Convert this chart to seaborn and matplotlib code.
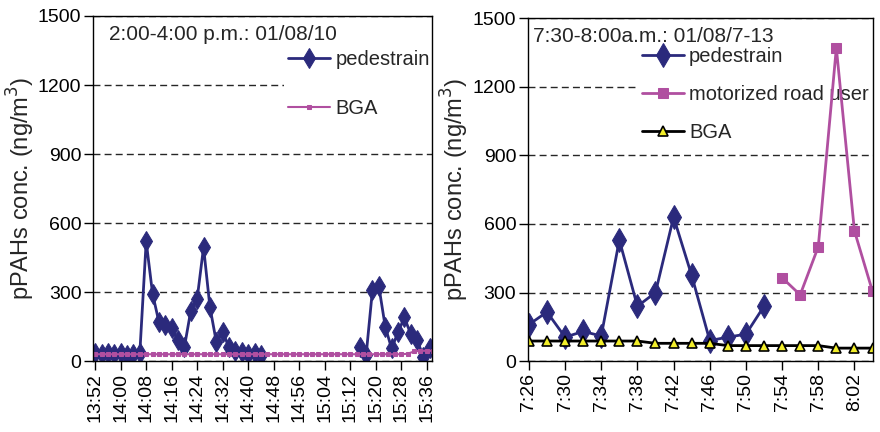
import matplotlib
matplotlib.use("Agg")
import matplotlib.pyplot as plt
import seaborn as sns

# left panel, 2:00-4:00 p.m. 01/08/10
ped_pm_time = ["13:52", "13:54", "13:56", "13:58", "14:00", "14:02", "14:04", "14:06",
               "14:08", "14:10", "14:12", "14:14", "14:16", "14:18", "14:20", "14:22",
               "14:24", "14:26", "14:28", "14:30", "14:32", "14:34", "14:36", "14:38",
               "14:40", "14:42", "14:44",
               "15:15", "15:17", "15:19", "15:21", "15:23", "15:25", "15:27", "15:29",
               "15:31", "15:33", "15:35", "15:37"]
ped_pm = [35, 30, 35, 30, 35, 25, 30, 35,
          520, 293, 170, 155, 142, 90, 62, 220,
          272, 495, 235, 84, 127, 60, 45, 38,
          30, 35, 25,
          60, 25, 310, 325, 150, 55, 125, 190,
          118, 90, 20, 55]

bga_pm_time = ["13:52", "13:54", "13:56", "13:58", "14:00", "14:02", "14:04", "14:06",
               "14:08", "14:10", "14:12", "14:14", "14:16", "14:18", "14:20", "14:22",
               "14:24", "14:26", "14:28", "14:30", "14:32", "14:34", "14:36", "14:38",
               "14:40", "14:42", "14:44", "14:46", "14:48", "14:50", "14:52", "14:54",
               "14:56", "14:58", "15:00", "15:02", "15:04", "15:06", "15:08", "15:10",
               "15:12", "15:14", "15:16", "15:18", "15:20", "15:22", "15:24", "15:26",
               "15:28", "15:30", "15:32", "15:34", "15:36", "15:38"]
bga_pm = [30, 30, 30, 30, 30, 30, 30, 30,
          30, 30, 30, 30, 30, 30, 30, 30,
          30, 30, 30, 30, 30, 30, 30, 30,
          30, 30, 30, 30, 30, 30, 30, 30,
          30, 30, 30, 30, 30, 30, 30, 30,
          30, 30, 30, 30, 30, 30, 30, 30,
          30, 32, 42, 45, 45, 45]

pm_ticks = ["13:52", "14:00", "14:08", "14:16", "14:24", "14:32", "14:40", "14:48",
            "14:56", "15:04", "15:12", "15:20", "15:28", "15:36"]

# right panel, 7:30-8:00 a.m. 01/08/7-13
ped_am_time = ["7:26", "7:28", "7:30", "7:32", "7:34", "7:36", "7:38", "7:40",
               "7:42", "7:44", "7:46", "7:48", "7:50", "7:52"]
ped_am = [160, 215, 105, 130, 110, 530, 240, 300, 630, 375, 90, 105, 118, 240]

motor_am_time = ["7:54", "7:56", "7:58", "8:00", "8:02", "8:04"]
motor_am = [365, 290, 500, 1370, 570, 305]

bga_am_time = ["7:26", "7:28", "7:30", "7:32", "7:34", "7:36", "7:38", "7:40",
               "7:42", "7:44", "7:46", "7:48", "7:50", "7:52", "7:54", "7:56",
               "7:58", "8:00", "8:02", "8:04"]
bga_am = [88, 88, 88, 88, 88, 88, 88, 78, 78, 78, 78, 68, 68, 68, 68, 68, 68, 57, 57, 57]

am_ticks = ["7:26", "7:30", "7:34", "7:38", "7:42", "7:46", "7:50", "7:54", "7:58", "8:02"]

y_ticks = [0, 300, 600, 900, 1200, 1500]

navy = "#2b2a7c"
pink = "#b04fa0"


def mins(t):
    h, m = t.split(":")
    return int(h) * 60 + int(m)


sns.set_style("ticks")
plt.rcParams['font.family'] = ['Liberation Sans', 'DejaVu Sans']
plt.rcParams['font.size'] = 14

fig = plt.figure(figsize=(8.8, 4.32), dpi=100)
ax1 = fig.add_axes([0.106, 0.164, 0.385, 0.799])
ax2 = fig.add_axes([0.600, 0.164, 0.392, 0.794])

# ---- left ----
xp = [mins(t) for t in ped_pm_time]
# measurement gap between 14:44 and 15:15 -> draw as two pieces
cut = [i for i in range(1, len(xp)) if xp[i] - xp[i - 1] > 10][0]
sns.lineplot(x=xp[:cut], y=ped_pm[:cut], ax=ax1, color=navy, linewidth=2, marker="d",
             markersize=10, markeredgecolor=navy, label="pedestrain")
sns.lineplot(x=xp[cut:], y=ped_pm[cut:], ax=ax1, color=navy, linewidth=2, marker="d",
             markersize=10, markeredgecolor=navy, label="_nolegend_")
sns.lineplot(x=[mins(t) for t in bga_pm_time], y=bga_pm, ax=ax1, color=pink,
             linewidth=1.5, marker="s", markersize=3.5, markeredgecolor=pink, label="BGA")

ax1.set_xlim(mins("13:52") - 0.6, mins("15:37") + 0.7)
ax1.set_xticks([mins(t) for t in pm_ticks])
ax1.set_xticklabels(pm_ticks, rotation=90)
ax1.text(0.045, 0.975, "2:00-4:00 p.m.: 01/08/10", transform=ax1.transAxes,
         ha="left", va="top", fontsize=15)
ax1.legend(loc="upper right", bbox_to_anchor=(1.005, 0.912), frameon=True, framealpha=1,
           edgecolor="none", facecolor="white", fancybox=False, handlelength=2.1,
           handletextpad=0.25, labelspacing=1.45, borderpad=0.2, borderaxespad=0,
           fontsize=14.5)

# ---- right ----
sns.lineplot(x=[mins(t) for t in ped_am_time], y=ped_am, ax=ax2, color=navy, linewidth=2,
             marker="d", markersize=12, markeredgecolor=navy, label="pedestrain")
sns.lineplot(x=[mins(t) for t in motor_am_time], y=motor_am, ax=ax2, color=pink,
             linewidth=2, marker="s", markersize=7.5, markeredgecolor=pink,
             label="motorized road user")
sns.lineplot(x=[mins(t) for t in bga_am_time], y=bga_am, ax=ax2, color="black",
             linewidth=2, marker="^", markersize=7, markerfacecolor="#f2ee2a",
             markeredgecolor="black", markeredgewidth=1.2, label="BGA")

ax2.set_xlim(mins("7:26") - 0.1, mins("8:04") + 0.05)
ax2.set_xticks([mins(t) for t in am_ticks])
ax2.set_xticklabels(am_ticks, rotation=90)
ax2.text(0.015, 0.975, "7:30-8:00a.m.: 01/08/7-13", transform=ax2.transAxes,
         ha="left", va="top", fontsize=15)
ax2.legend(loc="upper right", bbox_to_anchor=(1.0, 0.928), frameon=True, framealpha=1,
           edgecolor="none", facecolor="white", fancybox=False, handlelength=2.1,
           handletextpad=0.25, labelspacing=0.95, borderpad=0.2, borderaxespad=0,
           fontsize=14.5)

for ax in (ax1, ax2):
    ax.set_ylim(0, 1500)
    ax.set_yticks(y_ticks)
    ax.yaxis.grid(True, linestyle=(0, (5, 3)), color="0.15", linewidth=1)
    ax.set_axisbelow(True)
    ax.set_ylabel("pPAHs conc. (ng/m$^3$)", fontsize=17, labelpad=1)
    ax.set_xlabel("")
    ax.tick_params(direction="out", length=6.5, width=1, labelsize=14, pad=2,
                   colors="black")
    for s in ax.spines.values():
        s.set_visible(True)
        s.set_color("black")
        s.set_linewidth(1)
    # legend sits above the grid but under the data lines
    ax.get_legend().set_zorder(1)

fig.savefig("out.png", dpi=100)
